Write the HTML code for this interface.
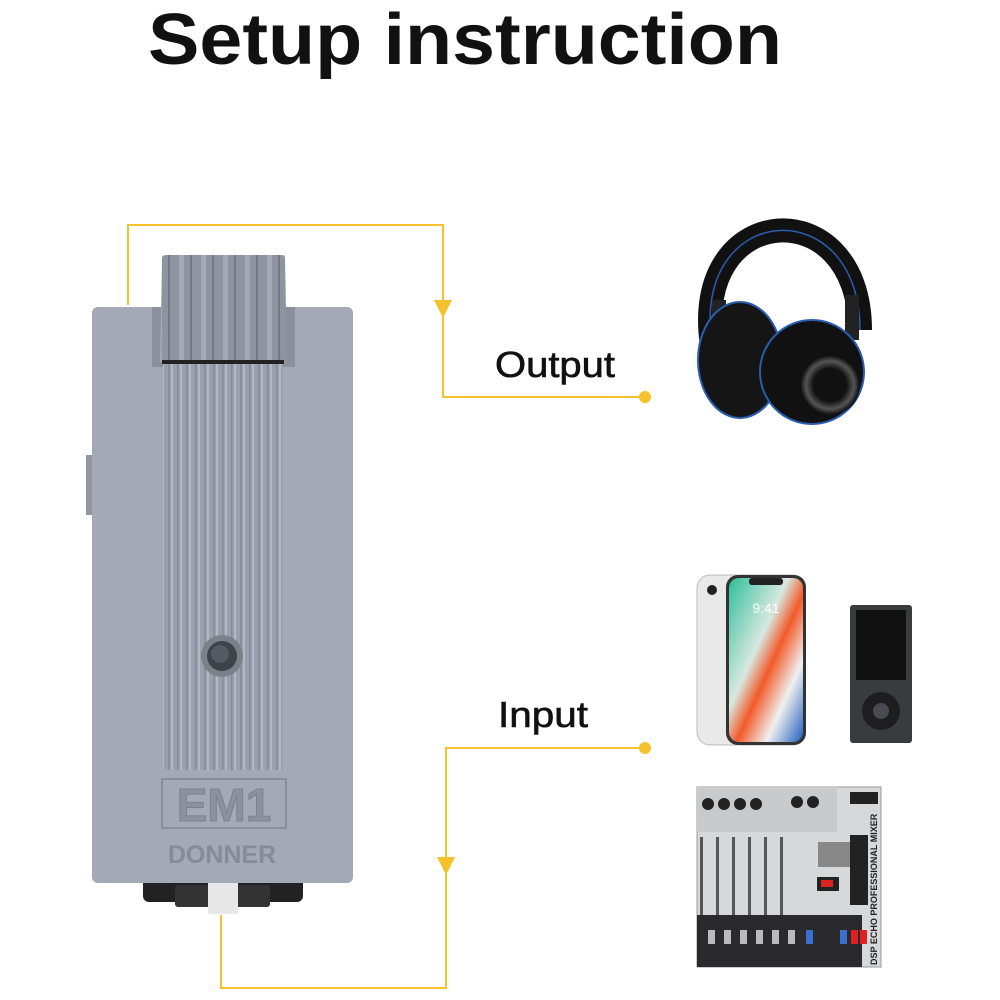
<!DOCTYPE html>
<html><head><meta charset="utf-8"><style>
html,body{margin:0;padding:0;background:#fff;}
svg{display:block}
</style></head><body>
<svg width="1000" height="1000" viewBox="0 0 1000 1000" xmlns="http://www.w3.org/2000/svg">
<defs>
<linearGradient id="scr" x1="0" y1="0" x2="1" y2="1">
<stop offset="0" stop-color="#2fbf9a"/><stop offset="0.4" stop-color="#d8e8e0"/><stop offset="0.55" stop-color="#f25a2a"/><stop offset="0.75" stop-color="#f0f0f0"/><stop offset="1" stop-color="#1f5fbf"/>
</linearGradient>
<pattern id="rib" width="9" height="10" patternUnits="userSpaceOnUse"><rect width="9" height="10" fill="#9aa1ae"/><rect x="0" width="2" height="10" fill="#b3b9c4"/><rect x="6" width="1.5" height="10" fill="#858c99"/></pattern>
<pattern id="krib" width="22" height="10" patternUnits="userSpaceOnUse"><rect width="22" height="10" fill="#8e95a1"/><rect x="3" width="5" height="10" fill="#a4aab5"/><rect x="14" width="2" height="10" fill="#737a86"/></pattern>
<radialGradient id="cup" cx="0.5" cy="0.5" r="0.5"><stop offset="0.55" stop-color="#111"/><stop offset="0.8" stop-color="#555"/><stop offset="1" stop-color="#0a0a0a"/></radialGradient>
</defs>
<text x="465" y="64" text-anchor="middle" font-family="Liberation Sans, sans-serif" font-weight="bold" font-size="72" fill="#111" textLength="634" lengthAdjust="spacingAndGlyphs">Setup instruction</text>

<!-- connectors -->
<g stroke="#f5c22c" stroke-width="2" fill="none">
<polyline points="128,305 128,225 443,225 443,397 645,397"/>
<polyline points="645,748 446,748 446,988 221,988 221,915"/>
</g>
<polygon points="434,300 452,300 443,318" fill="#f5c22c"/>
<polygon points="437,857 455,857 446,875" fill="#f5c22c"/>
<circle cx="645" cy="397" r="6" fill="#f5c22c"/>
<circle cx="645" cy="748" r="6" fill="#f5c22c"/>
<text x="495" y="377" font-family="Liberation Sans, sans-serif" font-size="36" fill="#111" stroke="#111" stroke-width="0.6" textLength="120" lengthAdjust="spacingAndGlyphs">Output</text>
<text x="498" y="727" font-family="Liberation Sans, sans-serif" font-size="36" fill="#111" stroke="#111" stroke-width="0.6" textLength="90" lengthAdjust="spacingAndGlyphs">Input</text>

<!-- device -->
<rect x="143" y="878" width="160" height="24" rx="6" fill="#222"/>
<rect x="175" y="885" width="95" height="22" rx="3" fill="#333"/>
<rect x="208" y="880" width="30" height="34" fill="#e8e8e8"/>
<rect x="86" y="455" width="8" height="60" fill="#8f96a2"/>
<rect x="92" y="307" width="261" height="576" rx="6" fill="#a3aab6"/>
<rect x="152" y="307" width="143" height="60" fill="#8a919d"/>
<rect x="163" y="360" width="120" height="410" fill="url(#rib)"/>
<path d="M162,258 Q162,255 166,255 L282,255 Q285,255 285,258 L287,362 L160,362 Z" fill="url(#krib)"/>
<rect x="162" y="360" width="122" height="4" fill="#222"/>
<circle cx="222" cy="656" r="21" fill="#7b818b"/>
<circle cx="222" cy="656" r="15" fill="#3e4249"/>
<circle cx="220" cy="654" r="9" fill="#555a62"/>
<rect x="162" y="779" width="124" height="49" fill="none" stroke="#888f9b" stroke-width="2"/>
<text x="224" y="821" text-anchor="middle" font-family="Liberation Sans, sans-serif" font-weight="bold" font-size="46" fill="#8b929e" stroke="#7c838f">EM1</text>
<text x="222" y="863" text-anchor="middle" font-family="Liberation Sans, sans-serif" font-weight="bold" font-size="25" fill="#858c98">DONNER</text>

<!-- headphones -->
<g>
<path d="M712,345 C690,200 860,190 860,330" fill="none" stroke="#111" stroke-width="24"/>
<path d="M712,345 C690,200 860,190 860,330" fill="none" stroke="#2a5db0" stroke-width="1.5"/>
<rect x="712" y="300" width="14" height="40" fill="#222"/>
<rect x="845" y="295" width="14" height="45" fill="#222"/>
<ellipse cx="740" cy="360" rx="42" ry="58" fill="#151515" stroke="#2a5db0" stroke-width="2"/>
<ellipse cx="812" cy="372" rx="52" ry="52" fill="#111" stroke="#2a5db0" stroke-width="2"/>
<circle cx="830" cy="385" r="30" fill="url(#cup)"/>
</g>

<!-- phone -->
<rect x="697" y="575" width="108" height="170" rx="13" fill="#e9e9e9" stroke="#bbb"/>
<rect x="726" y="575" width="80" height="170" rx="12" fill="#333"/>
<rect x="729" y="578" width="74" height="164" rx="10" fill="url(#scr)"/>
<rect x="749" y="578" width="34" height="7" rx="3" fill="#222"/>
<text x="766" y="613" text-anchor="middle" font-family="Liberation Sans, sans-serif" font-size="14" fill="#fff">9:41</text>
<circle cx="712" cy="590" r="5" fill="#222"/>
<!-- mp3 -->
<rect x="850" y="605" width="62" height="138" rx="3" fill="#3a3b3e"/>
<rect x="856" y="610" width="50" height="70" fill="#111"/>
<circle cx="881" cy="711" r="19" fill="#1e1e20"/>
<circle cx="881" cy="711" r="8" fill="#4a4b4f"/>

<!-- mixer -->
<rect x="697" y="787" width="184" height="180" fill="#d7d8da" stroke="#999"/>
<rect x="697" y="787" width="140" height="45" fill="#c9cacc"/>
<g fill="#222">
<circle cx="708" cy="804" r="6"/><circle cx="724" cy="804" r="6"/><circle cx="740" cy="804" r="6"/><circle cx="756" cy="804" r="6"/>
<circle cx="797" cy="802" r="6"/><circle cx="813" cy="802" r="6"/>
</g>
<rect x="850" y="792" width="28" height="12" fill="#222"/>
<g fill="#555">
<rect x="700" y="837" width="3" height="80"/><rect x="716" y="837" width="3" height="80"/><rect x="732" y="837" width="3" height="80"/>
<rect x="748" y="837" width="3" height="80"/><rect x="764" y="837" width="3" height="80"/><rect x="780" y="837" width="3" height="80"/>
</g>
<rect x="818" y="842" width="36" height="25" fill="#888"/>
<rect x="817" y="877" width="22" height="14" fill="#222"/><rect x="821" y="880" width="12" height="7" fill="#d22"/>
<rect x="850" y="835" width="18" height="70" fill="#222"/>
<rect x="697" y="915" width="165" height="52" fill="#2a2a2c"/>
<g fill="#bbb"><rect x="708" y="930" width="7" height="14"/><rect x="724" y="930" width="7" height="14"/><rect x="740" y="930" width="7" height="14"/><rect x="756" y="930" width="7" height="14"/><rect x="772" y="930" width="7" height="14"/><rect x="788" y="930" width="7" height="14"/></g>
<rect x="806" y="930" width="7" height="14" fill="#3a6fd0"/><rect x="840" y="930" width="7" height="14" fill="#3a6fd0"/>
<rect x="851" y="930" width="7" height="14" fill="#e02020"/><rect x="860" y="930" width="7" height="14" fill="#e02020"/>
<text transform="translate(877,965) rotate(-90)" font-family="Liberation Sans, sans-serif" font-weight="bold" font-size="9" fill="#222">DSP ECHO PROFESSIONAL MIXER</text>
</svg>
</body></html>
